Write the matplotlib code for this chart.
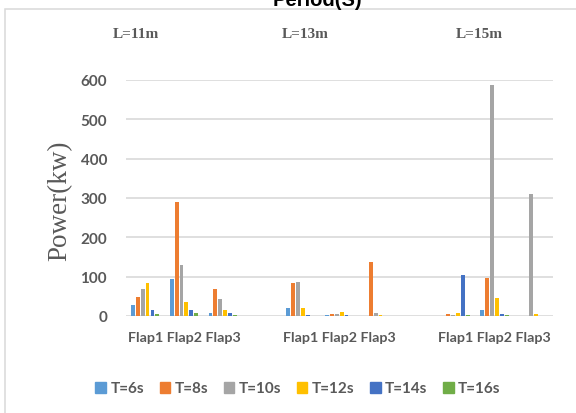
from matplotlib import pyplot as plt
from matplotlib.patches import Patch, Rectangle
import numpy as np

# categories (blank slot between the L groups)
categories = ['Flap1', 'Flap2', 'Flap3', '', 'Flap1', 'Flap2', 'Flap3', '', 'Flap1', 'Flap2', 'Flap3']
group_labels = ['L=11m', 'L=13m', 'L=15m']
series = ['T=6s', 'T=8s', 'T=10s', 'T=12s', 'T=14s', 'T=16s']
nan = np.nan

T6  = [29, 93, 7, nan, 20, 1.5, 0, nan, 0, 14.5, 0]
T8  = [48, 290, 69, nan, 83, 5, 137, nan, 4, 97.5, 0]
T10 = [68, 129, 42, nan, 87, 6, 8, nan, 2, 587, 309]
T12 = [84, 35, 16, nan, 20, 10, 2, nan, 8, 47, 4.5]
T14 = [14.5, 14.5, 7, nan, 3.5, 3, 0, nan, 103.5, 4, 1]
T16 = [4.3, 7.6, 3, nan, 0, 0, 0, nan, 1.5, 1.5, 0]
values = [T6, T8, T10, T12, T14, T16]

colors = ['#5B9BD5', '#ED7D31', '#A5A5A5', '#FFC000', '#4472C4', '#70AD47']
grey = '#595959'

fig = plt.figure(figsize=(5.76, 4.14), dpi=100)
ax = fig.add_axes([125.7/576, 1-317/414, (552.7-125.7)/576, (317-81)/414])

x = np.arange(len(categories))
slot = 0.126
for i, vals in enumerate(values):
    ax.bar(x + (i-2.5)*slot, vals, width=0.1, color=colors[i], zorder=3)

ax.set_xlim(-0.5, len(categories)-0.5)
ax.set_ylim(0, 600)
ax.set_yticks(np.arange(0, 601, 100))
ax.grid(axis='y', color='#d9d9d9', lw=1.2, zorder=0)
for s in ax.spines.values():
    s.set_visible(False)

ax.set_xticks([1, 5, 9])
ax.set_xticklabels([' '.join(categories[0:3])]*3, family='Lato', fontweight='bold',
                   fontsize=10.3, color=grey)
ax.tick_params(axis='x', length=0, pad=11)
ax.tick_params(axis='y', length=0, pad=13.4, labelsize=11, labelcolor=grey)
for t in ax.get_yticklabels():
    t.set_family('Lato')
    t.set_fontweight('bold')

fig.text(60/576, 1-201/414, 'Power(kw)', rotation=90, ha='center', va='center',
         family='Liberation Serif', fontsize=19.5, color=grey)

for gx, g in zip([136, 305.5, 479], group_labels):
    fig.text(gx/576, 1-35/414, g, ha='center', va='center', family='Liberation Serif',
             fontweight='bold', fontsize=11, color=grey)

# title is cut off at the top edge, as in the original
fig.text(317/576, 1-6/414, 'Period(S)', ha='center', va='baseline',
         family='Liberation Sans', fontweight='bold', fontsize=14.5, color='black')

# chart frame
fig.patches.append(Rectangle((5/576, -0.1), 1.2, 1.1 - 10/414, transform=fig.transFigure,
                             fill=False, edgecolor='#d9d9d9', lw=1.1))

handles = [Patch(color=c, label=s) for c, s in zip(colors, series)]
leg = fig.legend(handles=handles, loc='center', bbox_to_anchor=(298/576, 1-389.5/414),
                 ncol=6, frameon=False, handlelength=0.7, handleheight=0.7,
                 handletextpad=0.3, columnspacing=1.0,
                 prop={'family': 'Lato', 'weight': 'bold', 'size': 11})
for t in leg.get_texts():
    t.set_color(grey)

plt.savefig('out.png', dpi=100)
